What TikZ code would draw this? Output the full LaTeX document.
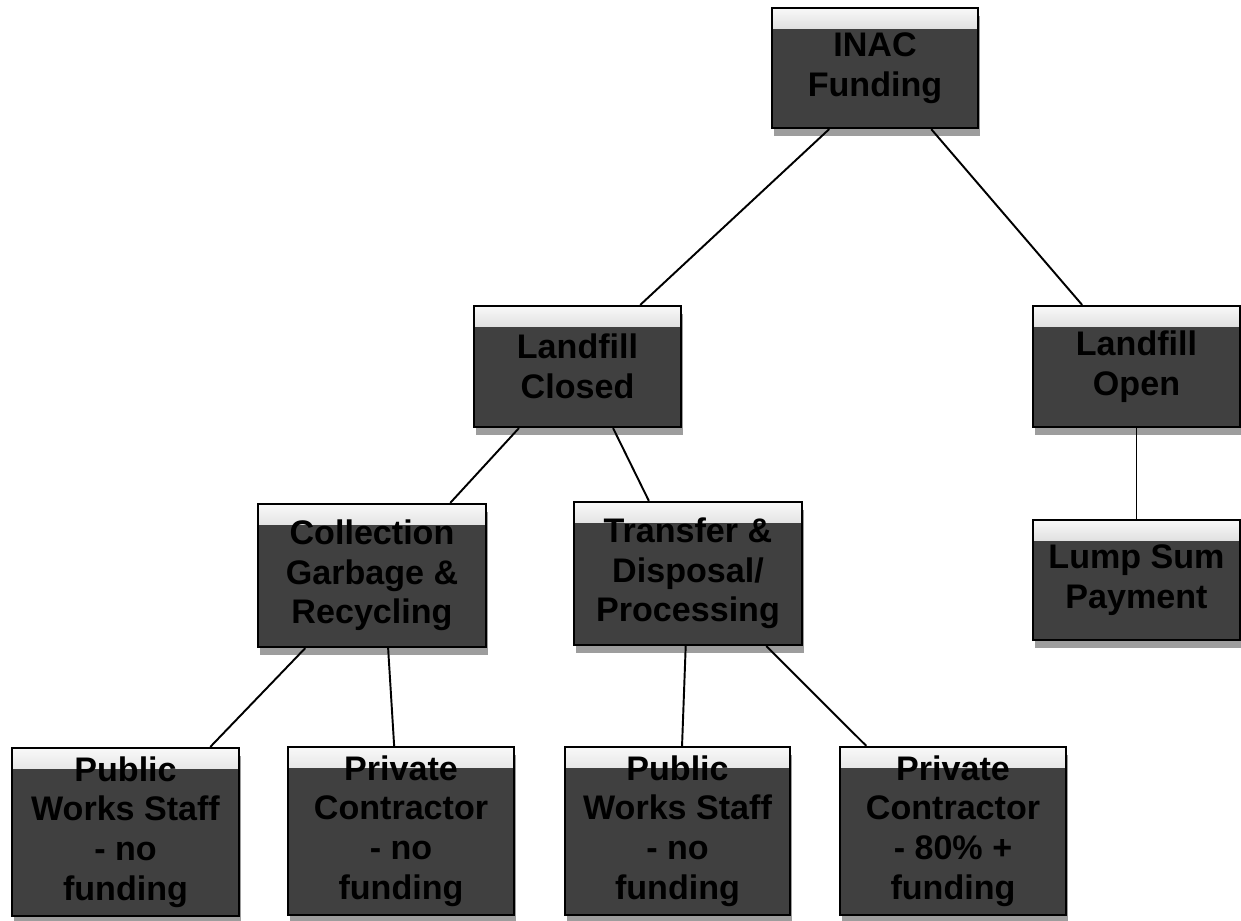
\documentclass[tikz,border=0pt]{standalone}
\usepackage{fontspec}
\setmainfont{Liberation Sans}
\usetikzlibrary{calc,shadows}
\definecolor{boxgray}{HTML}{404040}
\newcommand{\branch}[4]{\draw [conn] ($(#1.south west)!#2!(#1.south east)$)--($(#3.north west)!#4!(#3.north east)$);}
\tikzset{
  fundbox/.style={draw=black, line width=1.3pt, fill=boxgray, align=center,
    font=\bfseries\fontsize{19.4}{22.5}\selectfont, text=black, inner sep=1pt,
    drop shadow={shadow xshift=1pt, shadow yshift=-4.5pt, opacity=0.55, fill=black!70},
    path picture={\shade [top color=gray!5, bottom color=boxgray, middle color=gray!60]
      (path picture bounding box.north west) rectangle
      ([yshift=-0.4cm]path picture bounding box.north east);}},
  conn/.style={line width=1.1pt}
}

\begin{document}
\begin{tikzpicture}[x=0.02cm, y=-0.02cm]
\useasboundingbox (0,0) rectangle (1241,920);
\node [fundbox, minimum width=4.12cm, minimum height=2.4cm] (inac) at (875,68) {INAC\\Funding};
\node [fundbox, minimum width=4.14cm, minimum height=2.42cm] (closed) at (577.5,366.5) {Landfill\\Closed};
\node [fundbox, minimum width=4.14cm, minimum height=2.42cm] (open) at (1136.5,366.5) {Landfill\\Open};
\node [fundbox, minimum width=4.14cm, minimum height=2.4cm] (lump) at (1136.5,580) {Lump Sum\\Payment};
\node [fundbox, minimum width=4.56cm, minimum height=2.86cm] (collect) at (372,575.5) {Collection\\Garbage \&\\Recycling};
\node [fundbox, minimum width=4.56cm, minimum height=2.86cm] (transfer) at (688,573.5) {Transfer \&\\Disposal/\\Processing};

\node [fundbox, minimum width=4.54cm, minimum height=3.36cm] (public1) at (125.5,832) {Public\\Works Staff\\- no\\funding};
\node [fundbox, minimum width=4.52cm, minimum height=3.36cm] (private1) at (401,831) {Private\\Contractor\\- no\\funding};
\node [fundbox, minimum width=4.5cm, minimum height=3.36cm] (public2) at (677.5,831) {Public\\Works Staff\\- no\\funding};
\node [fundbox, minimum width=4.52cm, minimum height=3.36cm] (private2) at (953,831) {Private\\Contractor\\- 80\% +\\funding};

\branch{inac}{0.28}{closed}{0.80}
\branch{inac}{0.77}{open}{0.24}
\branch{closed}{0.22}{collect}{0.84}
\branch{closed}{0.67}{transfer}{0.33}
\draw [conn] (open.south)--(lump.north);
\branch{collect}{0.21}{public1}{0.87}
\branch{collect}{0.57}{private1}{0.47}
\branch{transfer}{0.49}{public2}{0.52}
\branch{transfer}{0.84}{private2}{0.12}
\end{tikzpicture}
\end{document}
